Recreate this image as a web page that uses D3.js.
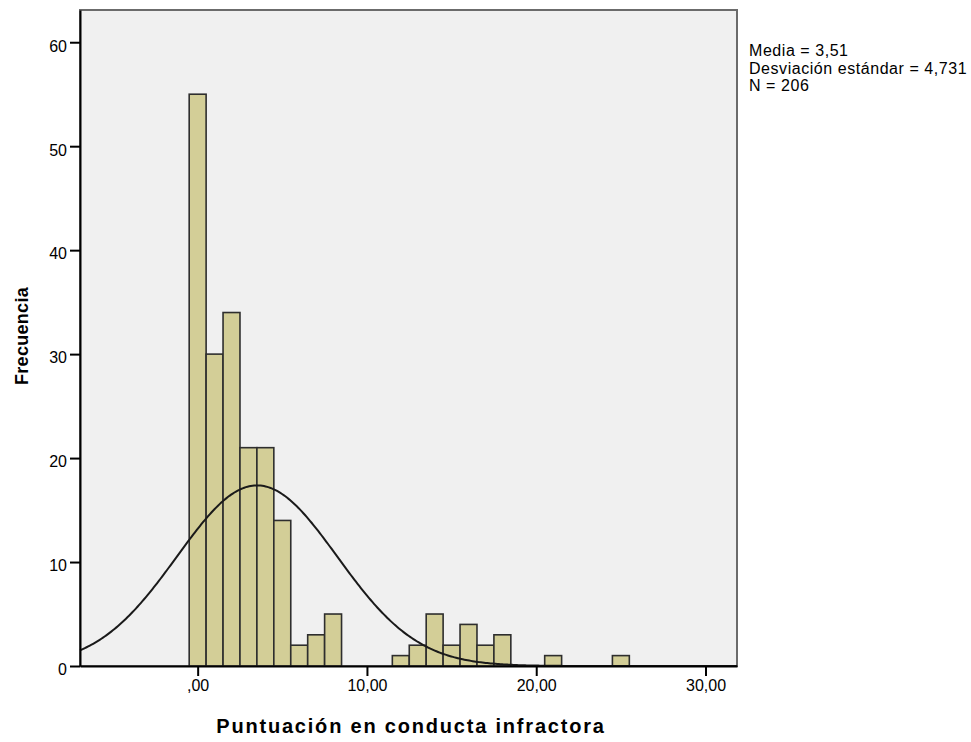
<!DOCTYPE html>
<html>
<head>
<meta charset="utf-8">
<script src="https://cdn.jsdelivr.net/npm/d3@7"></script>
<style>
  html, body { margin: 0; padding: 0; background: #ffffff; }
  svg { display: block; }
  text { font-family: "Liberation Sans", Arial, sans-serif; fill: #000; }
</style>
</head>
<body>
<svg id="chart" width="971" height="742"></svg>
<script>
// Histogram of "Puntuación en conducta infractora" with fitted normal curve
const binCenters = [0, 1, 2, 3, 4, 5, 6, 7, 8, 12, 13, 14, 15, 16, 17, 18, 21, 25];
const counts     = [55, 30, 34, 21, 21, 14, 2, 3, 5, 1, 2, 5, 2, 4, 2, 3, 1, 1];
const binWidth = 1;

const xTicks = [0, 10, 20, 30];
const xTickLabels = [",00", "10,00", "20,00", "30,00"];
const yTicks = [0, 10, 20, 30, 40, 50, 60];

const stats = { mean: 3.51, sd: 4.731, n: 206 };
const statLines = ["Media = 3,51", "Desviación estándar = 4,731", "N = 206"];

const xTitle = "Puntuación en conducta infractora";
const yTitle = "Frecuencia";

const xDomain = [-6.95, 31.86];
const yDomain = [0, 63.1];

const plot = { left: 80, right: 737, top: 10, bottom: 666 };

const svg = d3.select("#chart");

const x = d3.scaleLinear().domain(xDomain).range([plot.left, plot.right]);
const y = d3.scaleLinear().domain(yDomain).range([plot.bottom, plot.top]);

// plot background and frame
svg.append("rect")
  .attr("x", plot.left).attr("y", plot.top)
  .attr("width", plot.right - plot.left)
  .attr("height", plot.bottom - plot.top)
  .attr("fill", "#f0f0f0")
  .attr("stroke", "#6b6b6b")
  .attr("stroke-width", 2);

// bars
svg.append("g").selectAll("rect")
  .data(binCenters.map((c, i) => ({ c, v: counts[i] })))
  .join("rect")
  .attr("x", d => x(d.c - binWidth / 2))
  .attr("width", d => x(d.c + binWidth / 2) - x(d.c - binWidth / 2))
  .attr("y", d => y(d.v))
  .attr("height", d => y(0) - y(d.v))
  .attr("fill", "#d3ce97")
  .attr("stroke", "#2e2e2e")
  .attr("stroke-width", 1.6);

// fitted normal curve, scaled to counts per bin
const curvePts = d3.range(0, 401).map(i => {
  const v = xDomain[0] + (xDomain[1] - xDomain[0]) * i / 400;
  const z = (v - stats.mean) / stats.sd;
  const f = stats.n * binWidth / (stats.sd * Math.sqrt(2 * Math.PI)) * Math.exp(-0.5 * z * z);
  return [v, f];
});
svg.append("path")
  .datum(curvePts)
  .attr("fill", "none")
  .attr("stroke", "#1a1a1a")
  .attr("stroke-width", 2)
  .attr("d", d3.line().x(d => x(d[0])).y(d => y(d[1])));

// axes
const xAxis = d3.axisBottom(x)
  .tickValues(xTicks)
  .tickFormat((d, i) => xTickLabels[i])
  .tickSize(10)
  .tickSizeOuter(0);
const gx = svg.append("g")
  .attr("transform", `translate(0,${plot.bottom})`)
  .call(xAxis);
gx.select(".domain").attr("stroke", "#000").attr("stroke-width", 2);
gx.selectAll(".tick line").attr("stroke", "#000").attr("stroke-width", 2);
gx.selectAll(".tick text")
  .attr("y", 14).attr("dy", "0.71em")
  .style("font-size", "16px")
  .style("font-family", "'Liberation Sans', Arial, sans-serif");

const yAxis = d3.axisLeft(y)
  .tickValues(yTicks)
  .tickFormat(d3.format("d"))
  .tickSize(10)
  .tickSizeOuter(0);
const gy = svg.append("g")
  .attr("transform", `translate(${plot.left},0)`)
  .call(yAxis);
gy.select(".domain").attr("stroke", "#000").attr("stroke-width", 2);
gy.selectAll(".tick line").attr("stroke", "#000").attr("stroke-width", 2);
gy.selectAll(".tick text")
  .attr("x", -13).attr("dy", "0.55em")
  .style("font-size", "16px")
  .style("font-family", "'Liberation Sans', Arial, sans-serif");

// axis titles
svg.append("text")
  .attr("x", 411).attr("y", 733)
  .attr("text-anchor", "middle")
  .style("font-size", "20px")
  .style("font-weight", "bold")
  .style("letter-spacing", "1.8px")
  .text(xTitle);

svg.append("text")
  .attr("transform", "translate(28,336) rotate(-90)")
  .attr("text-anchor", "middle")
  .style("font-size", "18px")
  .style("font-weight", "bold")
  .style("letter-spacing", "0.3px")
  .text(yTitle);

// summary statistics
svg.append("g").selectAll("text")
  .data(statLines)
  .join("text")
  .attr("x", 749)
  .attr("y", (d, i) => 56 + i * 17.5)
  .style("font-size", "16px")
  .style("letter-spacing", "0.55px")
  .text(d => d);
</script>
</body>
</html>
